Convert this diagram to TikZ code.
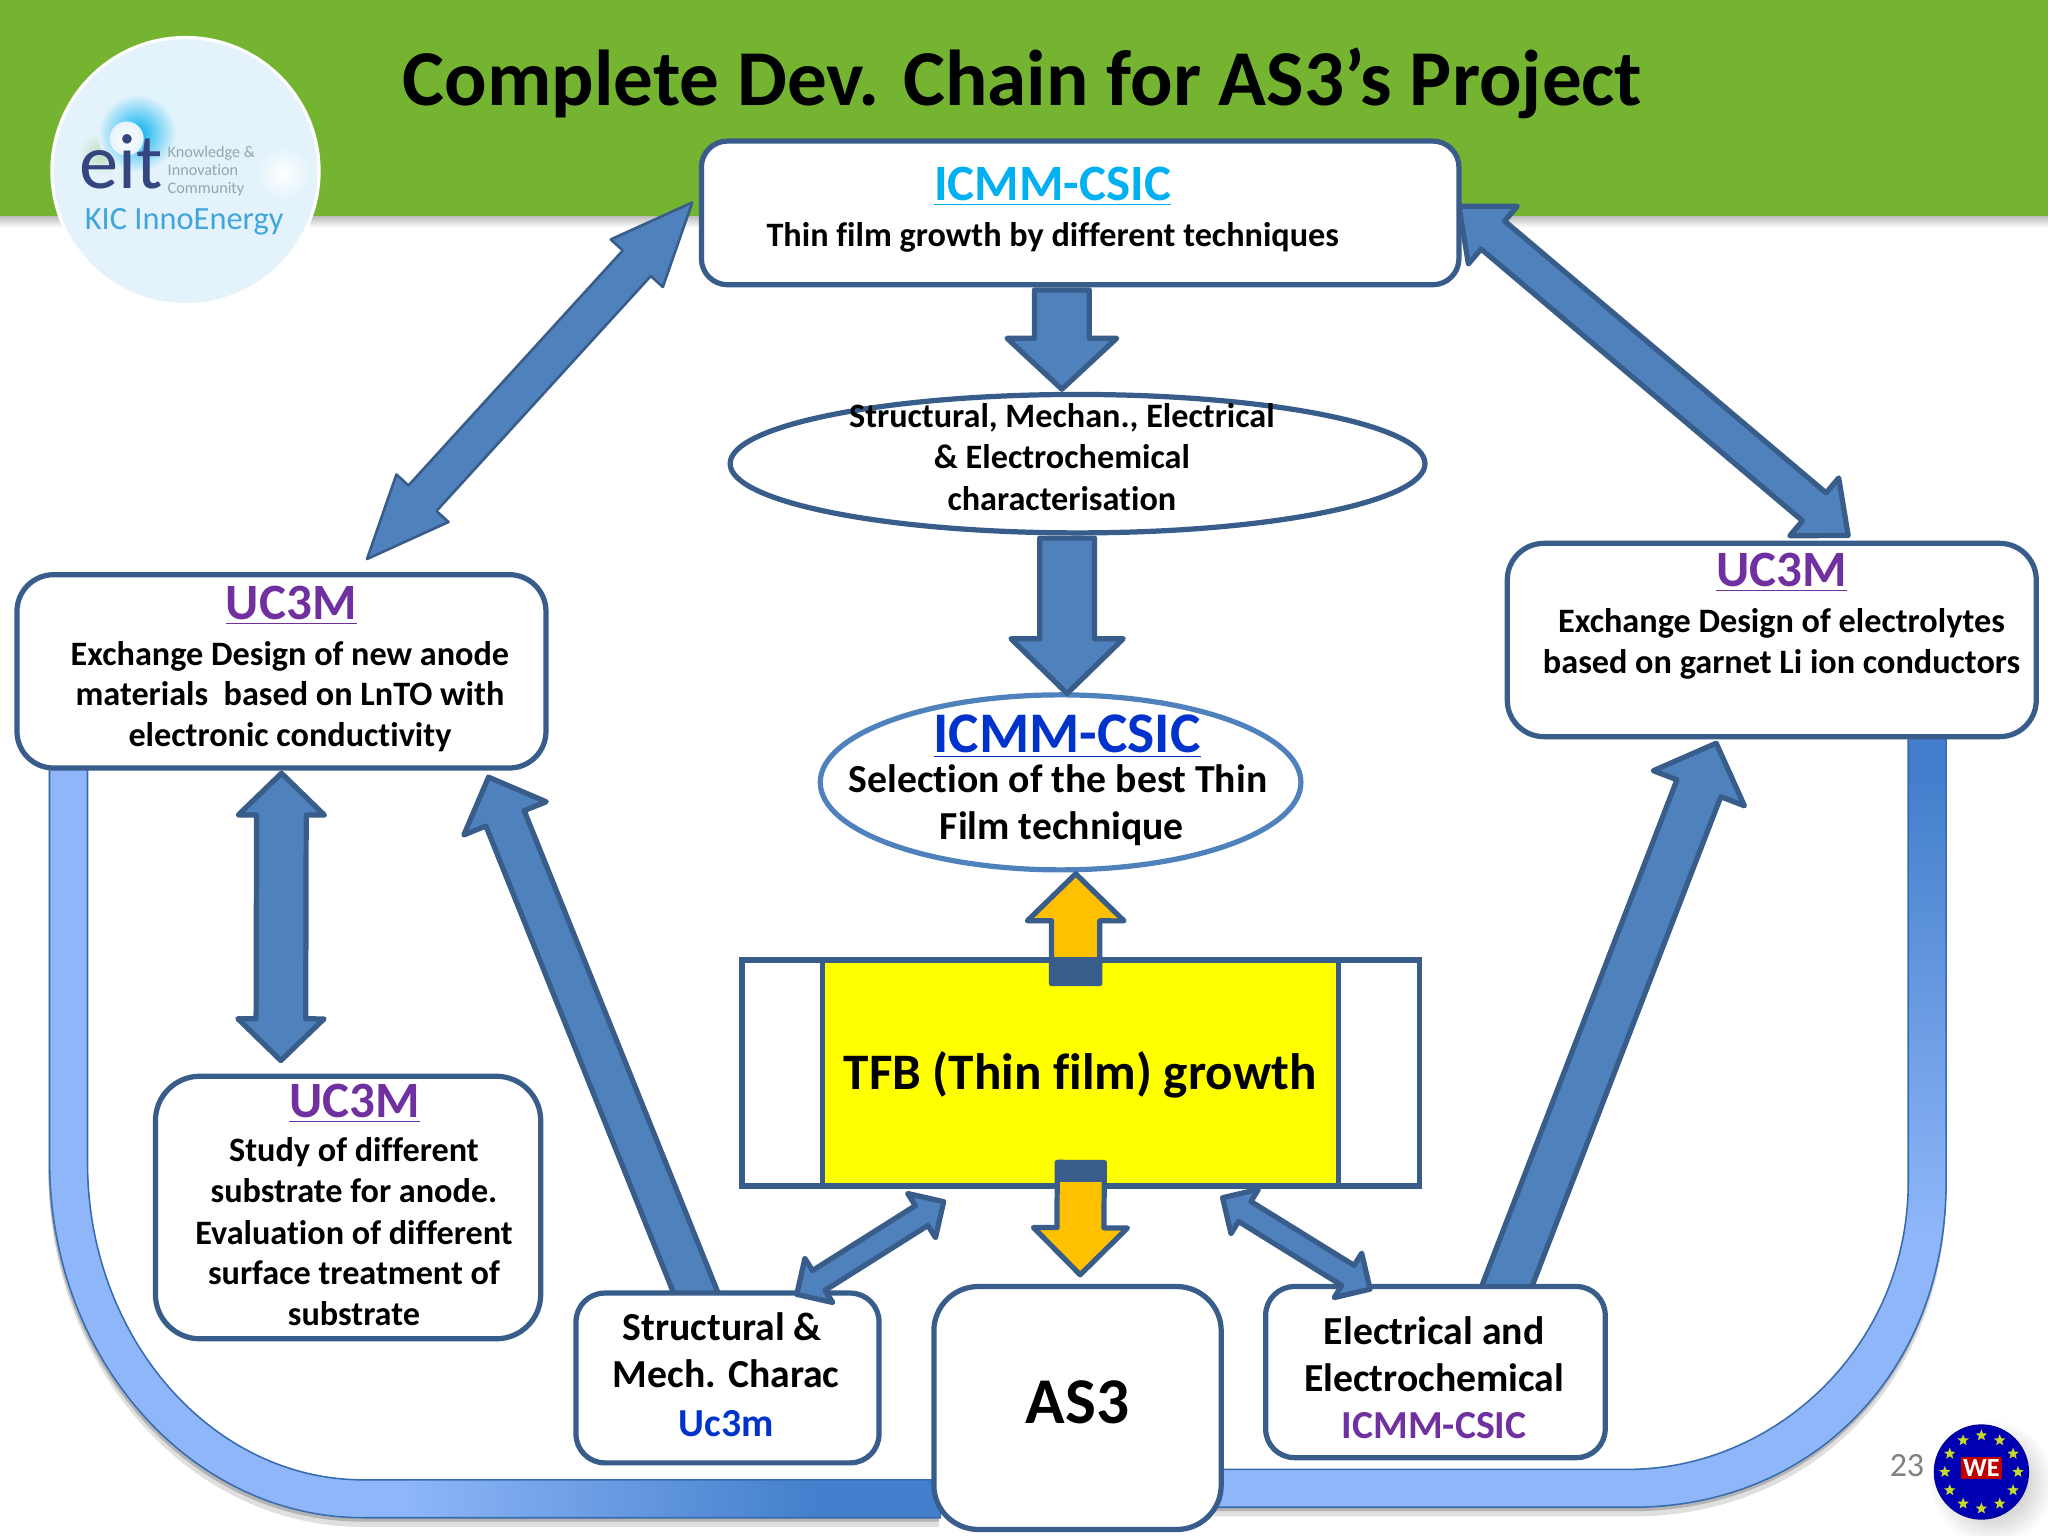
\documentclass[tikz,border=0pt]{standalone}
\usepackage{fontspec}
\setmainfont{Carlito}[BoldFont={Carlito Bold},Ligatures=CommonOff]
\usetikzlibrary{calc,shapes.geometric}
\pgfdeclarelayer{ground}\pgfdeclarelayer{behind}
\pgfsetlayers{ground,behind,main}
\definecolor{edge}{HTML}{385D8A}
\definecolor{arrowfill}{HTML}{4F81BD}
\definecolor{headergreen}{HTML}{75B431}
\definecolor{orangefill}{HTML}{FFC000}
\definecolor{tfbyellow}{HTML}{FFFF00}
\definecolor{cyantxt}{HTML}{00B0F0}
\definecolor{bluetxt}{HTML}{0033CC}
\definecolor{purpletxt}{HTML}{7030A0}
\definecolor{bandlight}{HTML}{8EB6F8}
\definecolor{banddark}{HTML}{437FCC}
\definecolor{logobg}{HTML}{E4F3FB}
\definecolor{eitnavy}{HTML}{34457F}
\definecolor{kicblue}{HTML}{3FA5DA}
\definecolor{knowgray}{HTML}{8FAAA8}
\pgfdeclarehorizontalshading{bandLshade}{100bp}{color(0bp)=(bandlight); color(45bp)=(bandlight); color(68bp)=(banddark); color(100bp)=(banddark)}
\pgfdeclareverticalshading{bandRshade}{100bp}{color(0bp)=(bandlight); color(43bp)=(bandlight); color(72bp)=(banddark); color(100bp)=(banddark)}
\tikzset{
  x=0.5pt,y=-0.5pt,
  boxn/.style={draw=edge,line width=2pt,fill=white,rectangle,rounded corners=#1,inner sep=0pt},
  boxn/.default=13pt,
  ell/.style={draw=edge,line width=2pt,fill=white,ellipse,inner sep=0pt},
  body/.style={font=\fontsize{13.1}{15}\selectfont\bfseries,inner sep=0pt,align=center,text=black,text height=8.5pt,text depth=0pt},
  bodyb/.style={font=\fontsize{15.2}{17}\selectfont\bfseries,inner sep=0pt,align=center,text=black,text height=9.6pt,text depth=0pt},
  head/.style={font=\fontsize{19.5}{22}\selectfont\bfseries,inner sep=0pt,align=center,text height=12.3pt,text depth=0pt},
  bluearrow/.style={draw=edge,fill=arrowfill,line width=2pt,line join=round},
  thinblue/.style={draw=edge,fill=arrowfill,line width=1pt,line join=round},
  orangearrow/.style={draw=edge,fill=orangefill,line width=2pt,line join=round},
}
% #1 style, #2 from, #3 tip, #4 shaft half, #5 head half, #6 head length
\newcommand{\onehead}[6]{%
  \coordinate (tA) at #2; \coordinate (tB) at #3;
  \coordinate (tC) at ($(tB)!#6!(tA)$);
  \draw[#1] ($(tA)!#4!90:(tB)$) -- ($(tC)!#4!90:(tB)$) -- ($(tC)!#5!90:(tB)$) -- (tB)
    -- ($(tC)!#5!-90:(tB)$) -- ($(tC)!#4!-90:(tB)$) -- ($(tA)!#4!-90:(tB)$) -- cycle;}
\newcommand{\twohead}[6]{%
  \coordinate (tA) at #2; \coordinate (tB) at #3;
  \coordinate (tC) at ($(tB)!#6!(tA)$); \coordinate (tD) at ($(tA)!#6!(tB)$);
  \draw[#1] (tA) -- ($(tD)!#5!90:(tB)$) -- ($(tD)!#4!90:(tB)$) -- ($(tC)!#4!90:(tB)$) -- ($(tC)!#5!90:(tB)$) -- (tB)
    -- ($(tC)!#5!-90:(tB)$) -- ($(tC)!#4!-90:(tB)$) -- ($(tD)!#4!-90:(tB)$) -- ($(tD)!#5!-90:(tB)$) -- cycle;}
\newcommand{\bandLpath}{(38,585) -- (38,890) .. controls (38,1040) and (146,1162) .. (278,1162) -- (720,1162) -- (720,1133) -- (278,1133) .. controls (162,1133) and (67,1024) .. (67,890) -- (67,585) -- cycle}
\newcommand{\bandRpath}{(1490,560) -- (1490,905) .. controls (1490,1050) and (1388,1154) .. (1250,1154) -- (930,1154) -- (930,1125) -- (1246,1125) .. controls (1360,1125) and (1461,1030) .. (1461,905) -- (1461,560) -- cycle}
\begin{document}
\begin{tikzpicture}
\useasboundingbox (0,0) rectangle (1568,1176);
% ---------- boxes
\node[boxn=10pt,minimum width=290pt,minimum height=55pt] (icmm) at (827,163) {};
\node[ell,minimum width=266pt,minimum height=53pt] (ellA) at (825,355) {};
\node[draw=arrowfill,line width=2pt,fill=white,ellipse,inner sep=0pt,minimum width=184pt,minimum height=67pt] (ellB) at (812,599) {};
\node[boxn=14pt,minimum width=202.5pt,minimum height=74pt] (uleft) at (215.5,514) {};
\node[boxn=14pt,minimum width=202.5pt,minimum height=74pt] (uright) at (1356.5,490) {};
\node[boxn=17pt,minimum width=147.5pt,minimum height=100.5pt] (ubot) at (266.5,924.5) {};
\node[boxn=11pt,minimum width=116pt,minimum height=65pt] (struct) at (557,1055) {};
\node[boxn=17pt,minimum width=110pt,minimum height=93pt] (asthree) at (825,1078) {};
\node[inner sep=0pt,font=\fontsize{25}{28}\selectfont\bfseries,text height=15.8pt,text depth=0pt] (astext) at (825,1074) {AS3};
\node[boxn=11pt,minimum width=130pt,minimum height=65.5pt] (elec) at (1099,1050.5) {};
\node[draw=edge,line width=2pt,fill=white,rectangle,inner sep=0pt,minimum width=259.5pt,minimum height=86.5pt] (tfb) at (827.5,821.5) {};
\node[draw=edge,line width=2pt,fill=tfbyellow,rectangle,inner sep=0pt,minimum width=197.5pt,minimum height=86.5pt] (tfbin) at (827.5,821.5) {};
\node[inner sep=0pt,font=\fontsize{19.6}{22}\selectfont\bfseries,text height=12.4pt,text depth=0pt] (tfbtext) at (827,822) {TFB (Thin film) growth};
% ---------- texts
\node[head,text=cyantxt] (t1) at (806,141) {\underline{ICMM-CSIC}};
\node[body] (t2) at (806,180) {Thin film growth by different techniques};
\node[body] (t3a) at (813,319) {Structural, Mechan., Electrical};
\node[body] (t3b) at (813,350) {\& Electrochemical};
\node[body] (t3c) at (813,382) {characterisation};
\node[head,text=bluetxt,font=\fontsize{22}{24}\selectfont\bfseries,text height=13.9pt] (t4) at (817,562) {\underline{ICMM-CSIC}};
\node[bodyb] (t5) at (810,597) {Selection of the best Thin};
\node[bodyb] (t6) at (813,633) {Film technique};
\node[head,text=purpletxt] (t7) at (223,462) {\underline{UC3M}};
\node[body] (t8) at (222,501) {Exchange Design of new anode};
\node[body] (t9) at (222,532) {materials\ \ based on LnTO with};
\node[body] (t10) at (222,563) {electronic conductivity};
\node[head,text=purpletxt] (t11) at (1364,437) {\underline{UC3M}};
\node[body] (t12) at (1364,476) {Exchange Design of electrolytes};
\node[body] (t13) at (1364,507) {based on garnet Li ion conductors};
\node[head,text=purpletxt] (t14) at (271.5,843) {\underline{UC3M}};
\node[body] (t15) at (271,881) {Study of different};
\node[body] (t16) at (271,912) {substrate for anode.};
\node[body] (t17) at (271,944) {Evaluation of different};
\node[body] (t18) at (271,975) {surface treatment of};
\node[body] (t19) at (271,1006) {substrate};
\node[bodyb] (t20) at (553,1017) {Structural \&};
\node[bodyb] (t21) at (556,1053) {Mech. Charac};
\node[bodyb,text=bluetxt] (t22) at (556,1090) {Uc3m};
\node[bodyb] (t23) at (1098,1020) {Electrical and};
\node[bodyb] (t24) at (1098,1056) {Electrochemical};
\node[bodyb,text=purpletxt] (t25) at (1098,1092) {ICMM-CSIC};
% ---------- header and logos
\begin{pgfonlayer}{ground}
  \shade[top color=black!28,bottom color=white] (0,165) rectangle (1568,174);
  \fill[headergreen] (0,0) rectangle (1568,165);
  \fill[white] (142,131) circle[radius=103.5];
  \fill[logobg] (142,131) circle[radius=101];
  \shade[inner color=white!40!cyantxt!22,outer color=logobg] (117,87) circle[radius=42];
  \shade[inner color=green!50!black!25,outer color=logobg] (77,117) circle[radius=17];
  \shade[inner color=cyantxt,outer color=logobg] (105,102) circle[radius=30];
  \shade[inner color=white,outer color=logobg] (97,106) circle[radius=13];
  \shade[inner color=white,middle color=white,outer color=logobg] (217,133) circle[radius=20];
\end{pgfonlayer}
\node[font=\fontsize{30.3}{32}\selectfont\bfseries,inner sep=0pt,text height=20pt,text depth=0pt] (title) at (783,61) {Complete Dev. Chain for AS3’s Project};
\node[inner sep=0pt,font=\fontsize{30}{30}\selectfont,text=eitnavy,text height=14pt,text depth=0pt,text width=30pt,align=center] (eit) at (91,130) {eit};
\node[inner sep=0pt,align=left,anchor=west,font=\fontsize{6.2}{7}\selectfont,text=knowgray] (know) at (128,131) {Knowledge \&\\Innovation\\Community};
\node[inner sep=0pt,font=\fontsize{12.4}{14}\selectfont,text=kicblue,text height=8pt,text depth=0pt] (kic) at (141,168) {KIC InnoEnergy};
\node[inner sep=0pt,font=\fontsize{13}{15}\selectfont,text=gray] (pageno) at (1460,1122) {23};
\shade[inner color=black!35,outer color=white] (1525,1135) circle[radius=48];
\node[draw=blue!60!black,fill=blue!70!black,circle,line width=.5pt,minimum size=36pt,inner sep=0pt] (weseal) at (1517,1127) {};
\foreach \a in {0,30,...,330}
  \node[star,star points=5,star point ratio=2.3,fill=yellow!80!green!85!gray,inner sep=0pt,minimum size=4.6pt] (st\a) at ($(weseal)+(\a:28 and 28)$) {};
\node[fill=red!75!black,inner sep=1pt,font=\fontsize{10}{11}\selectfont\bfseries,text=white] (wetext) at (1517,1124) {WE};
% ---------- behind the boxes
\begin{pgfonlayer}{behind}
  \fill[black!50,opacity=.25,shift={(-1,7)}] \bandLpath;
  \fill[black!50,opacity=.45,shift={(-1,3)}] \bandLpath;
  \fill[black!50,opacity=.25,shift={(0,7)}] \bandRpath;
  \fill[black!50,opacity=.45,shift={(0,3)}] \bandRpath;
  \shade[shading=bandLshade] \bandLpath;
  \draw[banddark!85!black,line width=.6pt] \bandLpath;
  \shade[shading=bandRshade] \bandRpath;
  \draw[banddark!85!black,line width=.6pt] \bandRpath;
  \twohead{bluearrow}{($(icmm.east)+(-2,-5)$)}{($(uright.north)+(58.5,-4)$)}{7pt}{14.5pt}{17pt}
  \onehead{bluearrow}{($(struct.north)+(-21,10)$)}{($(uleft.south)+(158.5,5)$)}{7.9pt}{17pt}{17pt}
  \onehead{bluearrow}{($(elec.north)+(51.5,10)$)}{($(uright.south)+(-42.5,3)$)}{9pt}{18.7pt}{18.5pt}
\end{pgfonlayer}
% ---------- block arrows
\onehead{bluearrow}{($(icmm.south)+(-14,2)$)}{($(ellA.north)+(-12,-2)$)}{10.5pt}{21pt}{19.5pt}
\onehead{bluearrow}{($(ellA.south)+(-8,2)$)}{($(ellB.north)+(5,1)$)}{10.5pt}{21.5pt}{21pt}
\twohead{thinblue}{($(icmm.west)+(-5,-8)$)}{($(uleft.north)+(65.5,-10)$)}{7.25pt}{13.5pt}{31.5pt}
\twohead{bluearrow}{($(uleft.south)+(0,2)$)}{($(ubot.north)+(-51.5,-10)$)}{9.5pt}{16.5pt}{16pt}
\twohead{bluearrow}{($(struct.north)+(53,3)$)}{($(tfb.south)+(-105,10)$)}{4.5pt}{10pt}{10pt}
\twohead{bluearrow}{($(elec.north)+(-50,4)$)}{($(tfb.south)+(108.5,7)$)}{4.5pt}{10pt}{10pt}
\onehead{orangearrow}{($(tfb.north)+(-4,20)$)}{($(ellB.south)+(11.6,1)$)}{9.25pt}{18.5pt}{18pt}
\fill[edge] ($(tfb.north)+(-22.5,0)$) rectangle ($(tfb.north)+(14.5,21)$);
\onehead{orangearrow}{($(tfb.south)+(0,-20)$)}{($(asthree.north)+(2,-7)$)}{9pt}{18pt}{18pt}
\fill[edge] ($(tfb.south)+(-18.5,-20)$) rectangle ($(tfb.south)+(18.5,-5)$);
\end{tikzpicture}
\end{document}
